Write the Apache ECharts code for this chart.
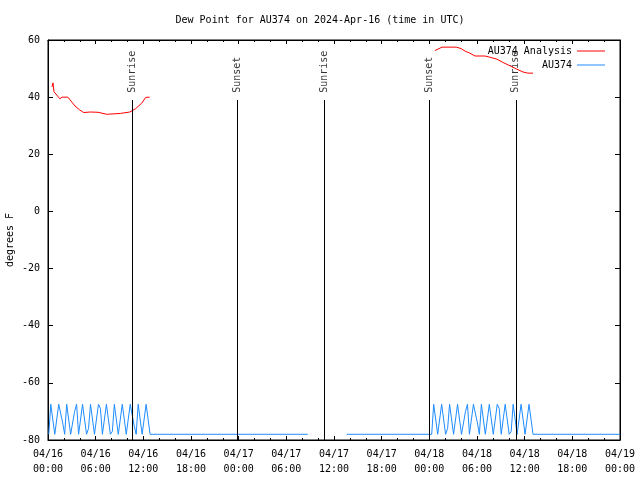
<!DOCTYPE html>
<html>
<head>
<meta charset="utf-8">
<script src="https://cdn.jsdelivr.net/npm/echarts@6/dist/echarts.min.js"></script>
<style>html,body{margin:0;padding:0;background:#fff}#c{width:640px;height:480px}</style>
</head>
<body>
<div id="c"></div>
<script>
// Hours since 2024-04-16 00:00 UTC
const titleText = 'Dew Point for AU374 on 2024-Apr-16 (time in UTC)';
const yTicks = { min: -80, max: 60, step: 20 };
const xTicks = { min: 0, max: 72, step: 6 };

// AU374 Analysis (red) [hour, degF]
const analysisSeg1 = [[0.5,43.6],[0.63,45.0],[0.75,41.9],[1.5,39.4],[1.76,40.0],[2.5,40.0],[3.4,36.9],[4.0,35.5],[4.5,34.6],[5.3,34.8],[6.3,34.7],[7.4,34.0],[9.1,34.3],[10.3,34.8],[11.0,35.9],[11.8,37.9],[12.3,39.9],[12.8,40.0]];
const analysisSeg2 = [[48.7,56.3],[48.9,56.8],[49.6,57.5],[51.4,57.5],[52.0,57.0],[52.5,56.1],[53.1,55.4],[53.75,54.4],[55.0,54.4],[55.6,54.0],[56.5,53.3],[57.3,52.1],[58.2,50.9],[59.0,49.8],[59.8,48.8],[60.4,48.4],[61.05,48.4]];

// AU374 observations (blue), sampled every 15 min
const obsStep = 0.25;
const obsSeg1Start = 0.1;
const obsSeg1 = [-78,-67.5,-67.5,-78, -78,-67.5,-67.5,-74, -78,-67.5,-67.5,-78, -78,-70,-67.5,-78,
  -78,-67.5,-67.5,-78, -76,-67.5,-67.5,-78, -78,-67.5,-69,-78, -78,-67.5,-67.5,-78,
  -77,-67.5,-67.5,-78, -78,-67.5,-67.5,-78, -78,-67.5,-67.5,-75, -78,-67.5,-67.5,-78,
  -78,-67.5,-67.5,-78];
const obsFlatA = [[32.7,-78]];
const obsFlatB = [[37.6,-78]];
const obsSeg2Start = 48.3;
const obsSeg2 = [-78,-67.5,-67.5,-78, -78,-67.5,-67.5,-78, -76,-67.5,-67.5,-78, -78,-67.5,-67.5,-78,
  -78,-70,-67.5,-78, -78,-67.5,-67.5,-74, -78,-67.5,-67.5,-78, -78,-67.5,-67.5,-78,
  -78,-67.5,-69,-78, -78,-67.5,-67.5,-78, -77,-67.5,-67.5,-78, -78,-67.5,-67.5,-78,
  -78,-67.5,-67.5,-78, -78];
const obsEnd = [[72,-78]];

// Sun events
const eventNames = ['Sunrise','Sunset','Sunrise','Sunset','Sunrise'];
const eventHours = [10.57, 23.85, 34.75, 48.05, 58.88];
const eventTop = 39;
const eventLabelAt = 41.5;

const analysisData = analysisSeg1.concat([[30,'-']], analysisSeg2);
const obsData = []
  .concat(obsSeg1.map((v,i)=>[obsSeg1Start + i*obsStep, v]))
  .concat(obsFlatA, [[35,'-']], obsFlatB)
  .concat(obsSeg2.map((v,i)=>[obsSeg2Start + i*obsStep, v]))
  .concat(obsEnd);

const FONT = 'DejaVu Sans Mono';
const txt = { fontFamily: FONT, fontSize: 10, color: '#000' };

function fmtX(v){
  const d = 16 + Math.floor(v/24);
  const h = Math.round(v % 24);
  return '04/' + d + '\n' + (h<10?'0':'') + h + ':00';
}

const axisLine = { show: true, onZero: false, lineStyle: { color: '#000', width: 1 } };

const chart = echarts.init(document.getElementById('c'), null, { renderer: 'canvas' });
chart.setOption({
  animation: false,
  backgroundColor: '#fff',
  title: { text: titleText, left: 'center', top: 10, textStyle: Object.assign({}, txt, { fontWeight: 'normal' }) },
  grid: { left: 48, right: 20, top: 40, bottom: 40, show: true, borderColor: '#000', borderWidth: 1, containLabel: false, outerBoundsMode: 'none' },
  legend: [
    { data: ['AU374 Analysis'], right: 30, top: 41, orient: 'vertical', align: 'right', icon: 'rect', itemWidth: 28, itemHeight: 1, textStyle: txt, selectedMode: false },
    { data: ['AU374'], right: 30, top: 55, orient: 'vertical', align: 'right', icon: 'rect', itemWidth: 28, itemHeight: 1, textStyle: txt, selectedMode: false }
  ],
  xAxis: [
    { type: 'value', min: xTicks.min, max: xTicks.max, interval: xTicks.step, position: 'bottom',
      axisLine: axisLine, splitLine: { show: false },
      axisTick: { show: true, inside: true, length: 4, lineStyle: { color: '#000' } },
      minorTick: { show: true, splitNumber: 3, length: 2, lineStyle: { color: '#000' } },
      axisLabel: Object.assign({}, txt, { formatter: fmtX, margin: 7, lineHeight: 15, showMinLabel: true, showMaxLabel: true, hideOverlap: false }) },
    { type: 'value', min: xTicks.min, max: xTicks.max, interval: xTicks.step, position: 'top',
      axisLine: axisLine, splitLine: { show: false }, axisLabel: { show: false },
      axisTick: { show: true, inside: true, length: 4, lineStyle: { color: '#000' } },
      minorTick: { show: true, splitNumber: 3, length: 2, lineStyle: { color: '#000' } } }
  ],
  yAxis: [
    { type: 'value', min: yTicks.min, max: yTicks.max, interval: yTicks.step, position: 'left',
      name: 'degrees F', nameLocation: 'middle', nameGap: 33, nameRotate: 90, nameMoveOverlap: false, nameTextStyle: txt,
      axisLine: axisLine, splitLine: { show: false },
      axisTick: { show: true, inside: true, length: 5, lineStyle: { color: '#000' } },
      axisLabel: Object.assign({}, txt, { margin: 8 }) },
    { type: 'value', min: yTicks.min, max: yTicks.max, interval: yTicks.step, position: 'right',
      axisLine: axisLine, splitLine: { show: false }, axisLabel: { show: false },
      axisTick: { show: true, inside: true, length: 5, lineStyle: { color: '#000' } } }
  ],
  series: [
    { name: 'events', type: 'scatter', xAxisIndex: 0, yAxisIndex: 0, symbolSize: 0, silent: true,
      data: eventHours.map((h,i)=>({ value: [h, eventLabelAt], name: eventNames[i] })),
      label: { show: true, formatter: p => p.name, position: 'inside', rotate: 90, align: 'left', verticalAlign: 'middle', fontFamily: FONT, fontSize: 10, color: '#000' },
      markLine: { silent: true, symbol: 'none', animation: false, label: { show: false },
        lineStyle: { color: '#000', width: 1, type: 'solid' },
        data: eventHours.map(h => [{ coord: [h, yTicks.min] }, { coord: [h, eventTop] }]) } },
    { name: 'AU374 Analysis', type: 'line', xAxisIndex: 0, yAxisIndex: 0, data: analysisData, symbol: 'none', connectNulls: false,
      lineStyle: { color: '#ff0000', width: 1 }, itemStyle: { color: '#ff0000' } },
    { name: 'AU374', type: 'line', xAxisIndex: 0, yAxisIndex: 0, data: obsData, symbol: 'none', connectNulls: false,
      lineStyle: { color: '#1e8cff', width: 1 }, itemStyle: { color: '#1e8cff' } }
  ]
});
</script>
</body>
</html>
